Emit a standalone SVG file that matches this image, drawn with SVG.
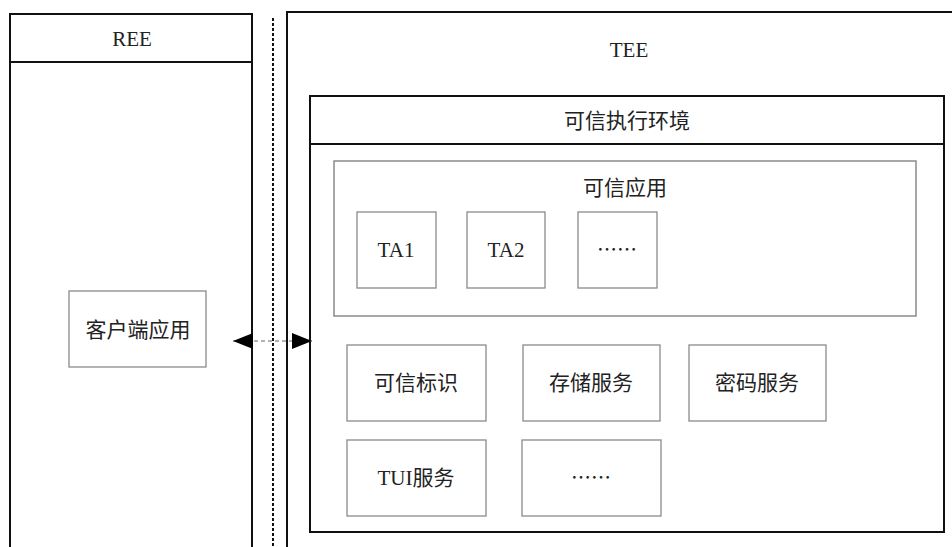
<svg xmlns="http://www.w3.org/2000/svg" width="952" height="547" viewBox="0 0 952 547">
<style>
.outer{fill:none;stroke:#111;stroke-width:2}
.inner{fill:#fff;stroke:#8a8a8a;stroke-width:1.3}
.t{font-family:'Liberation Serif','Noto Sans CJK SC',serif;font-size:21px;fill:#222;text-anchor:middle}
.lat{font-family:'Liberation Serif','Noto Sans CJK SC',serif;font-size:21px;fill:#222;text-anchor:middle}
.dots{font-family:'Noto Sans CJK SC',sans-serif;font-size:20px;fill:#222;text-anchor:middle}
</style>
<defs>
<marker id="ah" viewBox="0 0 20 16" refX="20" refY="8" markerWidth="20" markerHeight="16" markerUnits="userSpaceOnUse" orient="auto-start-reverse">
<path d="M0,0 L20,8 L0,16 Z" fill="#000"/>
</marker>
</defs>
<rect width="952" height="547" fill="#fff"/>

<g id="ree">
<rect class="outer" x="10" y="14" width="242" height="545"/>
<line class="outer" x1="10" y1="62" x2="252" y2="62"/>
<text class="lat" x="132" y="46">REE</text>
</g>

<g id="divider">
<line x1="273" y1="18" x2="273" y2="547" stroke="#111" stroke-width="2" stroke-dasharray="3,2"/>
</g>

<g id="tee">
<rect class="outer" x="287" y="12" width="680" height="550"/>
<text class="lat" x="629" y="57">TEE</text>
</g>

<g id="tee-env">
<rect class="outer" x="310" y="96" width="634" height="436"/>
<line class="outer" x1="310" y1="144" x2="944" y2="144"/>
<text class="t" x="627" y="128">可信执行环境</text>
</g>

<g id="trusted-apps">
<rect x="334" y="161" width="582" height="155" fill="none" stroke="#8a8a8a" stroke-width="1.5"/>
<text class="t" x="625" y="195">可信应用</text>
</g>

<g id="ta1">
<rect class="inner" x="357" y="212" width="79" height="76"/>
<text class="lat" x="396" y="257">TA1</text>
</g>
<g id="ta2">
<rect class="inner" x="467" y="212" width="78" height="76"/>
<text class="lat" x="506" y="257">TA2</text>
</g>
<g id="ta-more">
<rect class="inner" x="578" y="212" width="79" height="76"/>
<text class="dots" x="617" y="257">……</text>
</g>

<g id="trusted-id">
<rect class="inner" x="347" y="345" width="139" height="76"/>
<text class="t" x="416" y="390">可信标识</text>
</g>
<g id="storage">
<rect class="inner" x="523" y="345" width="137" height="76"/>
<text class="t" x="591" y="390">存储服务</text>
</g>
<g id="crypto">
<rect class="inner" x="689" y="345" width="137" height="76"/>
<text class="t" x="757" y="390">密码服务</text>
</g>
<g id="tui">
<rect class="inner" x="347" y="440" width="139" height="76"/>
<text class="t" x="416" y="485">TUI服务</text>
</g>
<g id="svc-more">
<rect class="inner" x="522" y="440" width="139" height="76"/>
<text class="dots" x="591" y="485">……</text>
</g>

<g id="client">
<rect class="inner" x="69" y="291" width="137" height="76"/>
<text class="t" x="138" y="337">客户端应用</text>
</g>

<g id="connectors">
<line x1="233" y1="341" x2="312" y2="341" stroke="#666" stroke-width="1.2" stroke-dasharray="4,3" marker-start="url(#ah)" marker-end="url(#ah)"/>
</g>
</svg>
